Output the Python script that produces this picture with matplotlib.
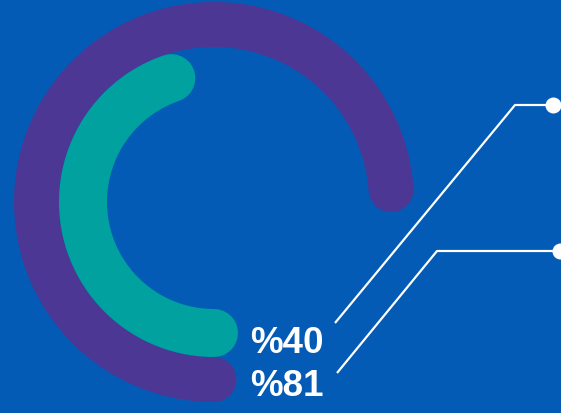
import numpy as np
import matplotlib
matplotlib.use("Agg")
import matplotlib.pyplot as plt

# values
labels = ["%40", "%81"]
arc_span_deg = [161, 266]        # inner (teal), outer (purple), clockwise from bottom
arc_radius = [131, 177.5]        # centre line radius, px
arc_width = [48, 45]             # band width, px
arc_colors = ["#00a19f", "#4c3795"]
bg = "#035bb6"

# callout lines: label end -> elbow -> dot
callout_start = [(335, 323), (337, 373)]
callout_elbow = [(515, 105), (437, 251)]
callout_dot = [(553, 105), (560, 251)]

W, H, dpi = 561, 413, 100
px = 72.0 / dpi  # pixel -> points
cx, cy = 214, 202

fig = plt.figure(figsize=[W / dpi, H / dpi], dpi=dpi, facecolor=bg)
ax = fig.add_axes([0, 0, 1, 1])
ax.set_facecolor(bg)
ax.set_xlim(0, W)
ax.set_ylim(H, 0)
ax.axis("off")

# outer arc first, teal on top
for i in [1, 0]:
    th = np.radians(-90 - np.linspace(0, arc_span_deg[i], 300))
    x = cx + arc_radius[i] * np.cos(th)
    y = cy - arc_radius[i] * np.sin(th)
    ax.plot(x, y, color=arc_colors[i], lw=arc_width[i] * px,
            solid_capstyle="round")

for s, e, d in zip(callout_start, callout_elbow, callout_dot):
    ax.plot([s[0], e[0], d[0]], [s[1], e[1], d[1]], color="white",
            lw=2.2 * px, solid_capstyle="butt")
    ax.plot(d[0], d[1], "o", color="white", ms=16 * px, mew=0)

text_y = [353, 396]
for lab, ty in zip(labels, text_y):
    ax.text(250, ty, lab, color="white", fontsize=26.5, fontweight="bold",
            family="Liberation Sans", ha="left", va="baseline")

fig.savefig("out.png", dpi=dpi, facecolor=bg)
